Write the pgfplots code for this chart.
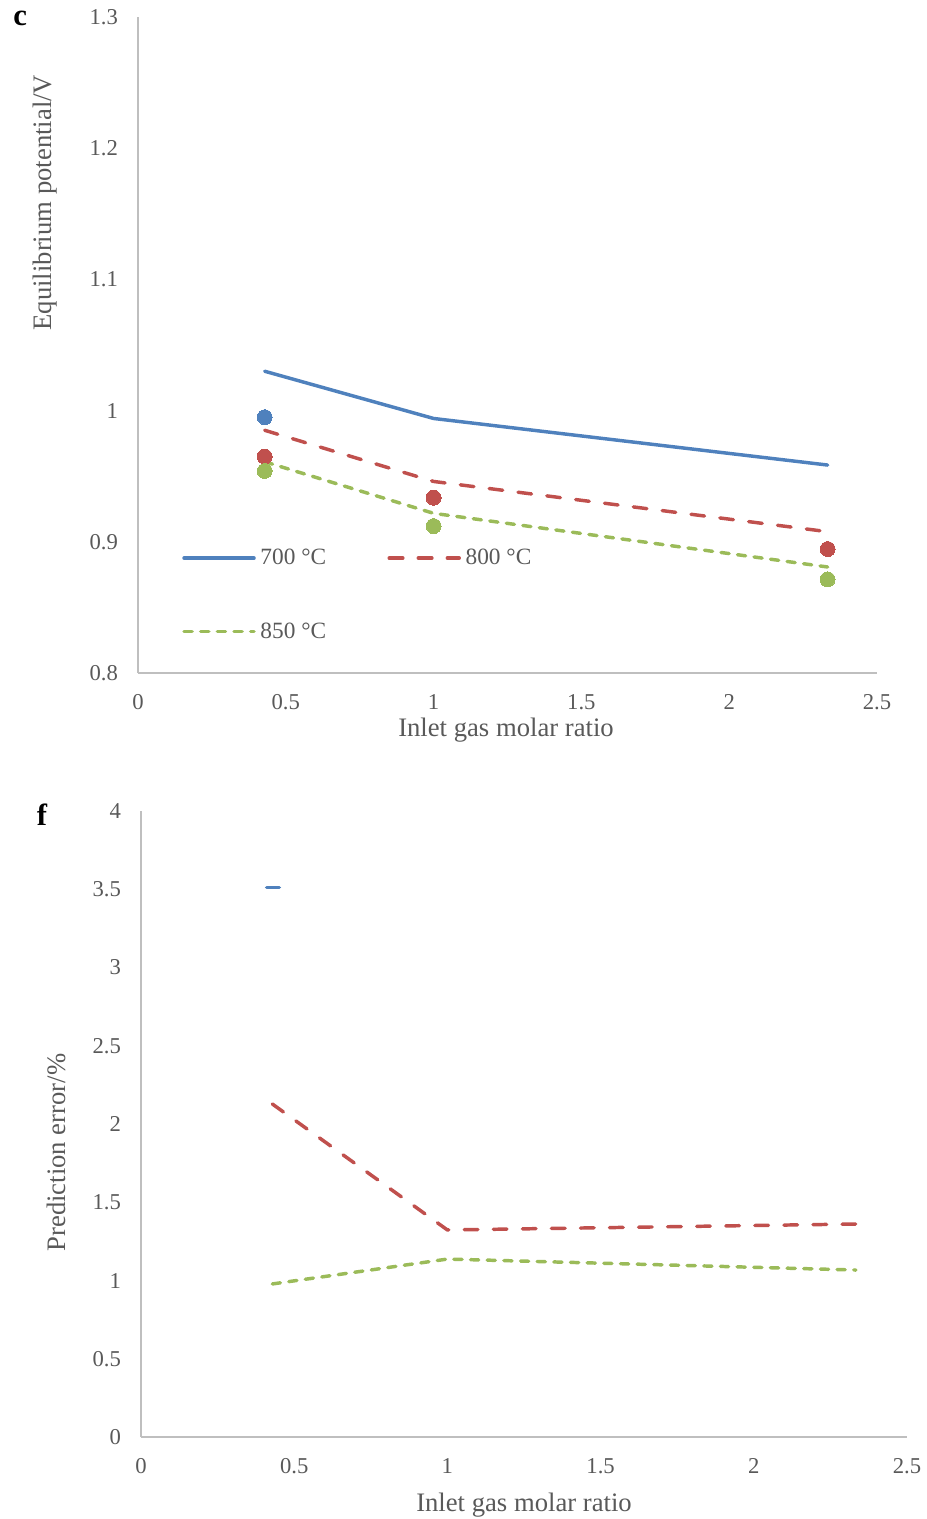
\documentclass[border=0pt]{standalone}
\usepackage{fontspec}
\setmainfont{Liberation Serif}
\usepackage{pgfplots}
\pgfplotsset{compat=1.18}

\definecolor{s700}{HTML}{4F81BD}
\definecolor{s800}{HTML}{C0504D}
\definecolor{s850}{HTML}{9BBB59}
\definecolor{txt}{HTML}{595959}
\definecolor{axln}{HTML}{BFBFBF}

\pgfplotsset{
  panel/.style={
    scale only axis,
    axis lines=left,
    axis line style={draw=axln, line width=1pt, -},
    major tick length=0pt,
    tick style={draw=none},
    xmin=0, xmax=2.5, xtick={0,0.5,1,1.5,2,2.5},
    /pgf/number format/assume math mode=true,
    ticklabel style={font=\fontsize{17pt}{20pt}\selectfont, text=txt},
    xticklabel style={yshift=-12.5pt},
    yticklabel style={xshift=-11.5pt},
    clip=false,
  },
  l700/.style={color=s700, line width=2.6pt, line cap=round, line join=round},
  l800/.style={color=s800, line width=2.6pt, line cap=round, line join=round,
    dash pattern=on 10.2pt off 11.6pt},
  l850/.style={color=s850, line width=2.6pt, line cap=round, line join=round,
    dash pattern=on 6.1pt off 6.4pt},
  dots/.style={only marks, mark=*, mark size=5.6pt, color=#1,
    mark options={draw=#1, fill=#1, line width=0pt}, forget plot},
}

\newcommand{\lblfont}{\fontsize{20pt}{24pt}\selectfont}

\begin{document}
\begin{tikzpicture}
\path[use as bounding box] (0pt,0pt) rectangle (694.5pt,-1139.25pt);

% ---- panel c: equilibrium potential ----
\begin{axis}[panel,
  at={(103.5pt,-504.75pt)}, anchor=south west,
  width=554.25pt, height=492pt,
  ymin=0.8, ymax=1.3, ytick={0.8,0.9,1,1.1,1.2,1.3},
  legend columns=2,
  legend cell align=left,
  legend image code/.code={\draw[#1] (0pt,0pt) -- (52.5pt,0pt); \path (54pt,0pt);},
  legend style={at={(axis cs:0.1354,0.8985)}, anchor=north west,
    draw=none, fill=none, row sep=38pt,
    font=\fontsize{17.5pt}{20pt}\selectfont, nodes={text=txt},
    /tikz/every even column/.append style={column sep=44pt}},
]
\addplot[l700] coordinates {(0.4286,1.030) (1,0.994) (2.333,0.9585)};
\addlegendentry{700 °C}
\addplot[l800] coordinates {(0.4286,0.985) (1,0.946) (2.333,0.9077)};
\addlegendentry{800 °C}
\addplot[l850] coordinates {(0.4286,0.961) (1,0.9217) (2.333,0.8808)};
\addlegendentry{850 °C}
\addplot[dots=s700] coordinates {(0.4286,0.995)};
\addplot[dots=s800] coordinates {(0.4286,0.965) (1,0.9336) (2.333,0.8945)};
\addplot[dots=s850] coordinates {(0.4286,0.954) (1,0.912) (2.333,0.8714)};
\end{axis}

% ---- panel f: prediction error ----
\begin{axis}[panel,
  at={(105.75pt,-1077.75pt)}, anchor=south west,
  width=574.5pt, height=469.5pt,
  ymin=0, ymax=4, ytick={0,0.5,1,1.5,2,2.5,3,3.5,4},
]
\addplot[l700] coordinates {(0.41,3.51) (0.4514,3.51)};
\addplot[l800] coordinates {(0.4286,2.128) (1,1.323) (2.333,1.361)};
\addplot[l850] coordinates {(0.4286,0.978) (1,1.137) (2.333,1.067)};
\end{axis}

% axis titles and panel letters
\node[font=\lblfont, text=txt, anchor=base, inner sep=0pt] at (379.5pt,-552.5pt) {Inlet gas molar ratio};
\node[font=\lblfont, text=txt, anchor=base, inner sep=0pt] at (393pt,-1133.6pt) {Inlet gas molar ratio};
\node[font=\lblfont, text=txt, anchor=base, rotate=90, inner sep=0pt] at (38.4pt,-152pt) {Equilibrium potential/V};
\node[font=\lblfont, text=txt, anchor=base, rotate=90, inner sep=0pt] at (49.3pt,-864.4pt) {Prediction error/\%};
\node[font=\fontsize{23pt}{26pt}\selectfont\bfseries, anchor=base west, inner sep=0pt] at (9.75pt,-19.5pt) {c};
\node[font=\fontsize{23pt}{26pt}\selectfont\bfseries, anchor=base west, inner sep=0pt] at (27.5pt,-618.75pt) {f};
\end{tikzpicture}
\end{document}
